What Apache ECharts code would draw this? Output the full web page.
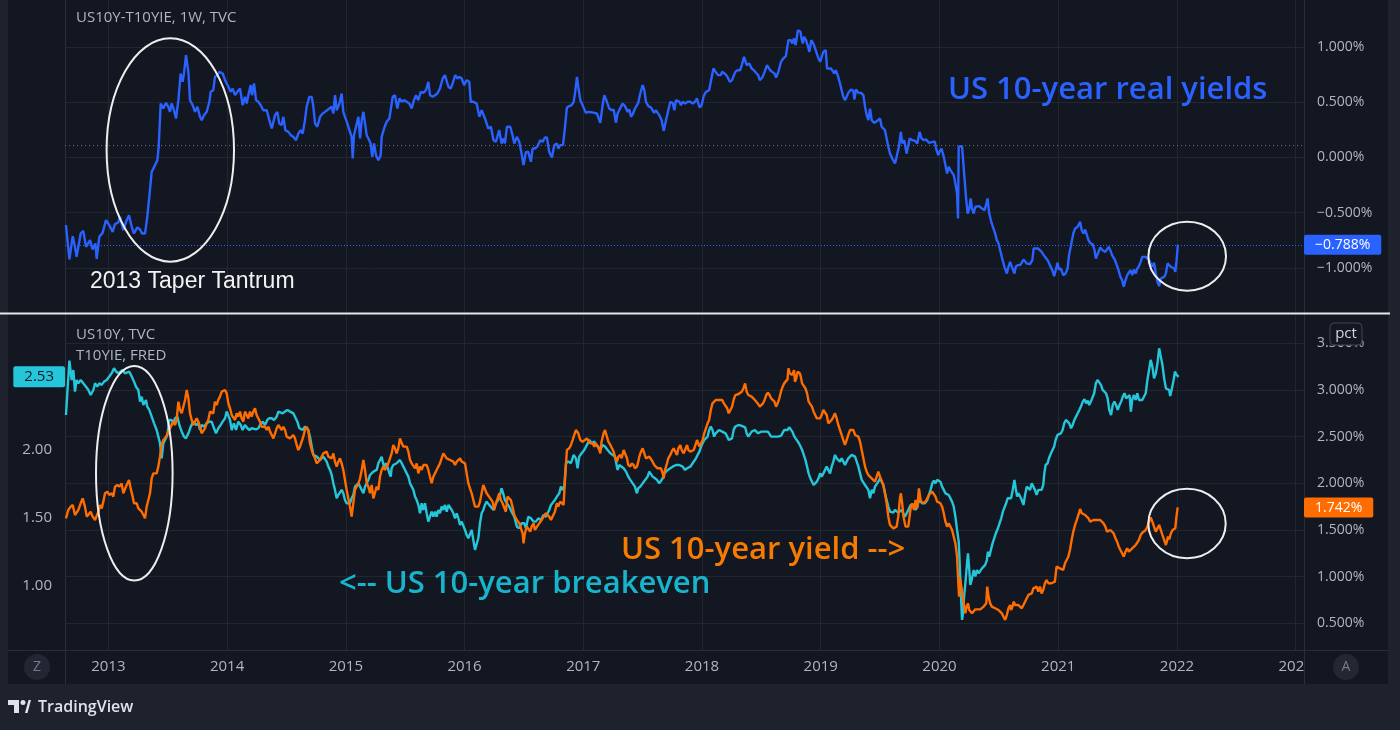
<!DOCTYPE html>
<html><head><meta charset="utf-8">
<script src="https://cdn.jsdelivr.net/npm/echarts@6/dist/echarts.min.js"></script>
<style>html,body{margin:0;padding:0;background:#1e222d;overflow:hidden}#chart{width:1400px;height:730px}</style>
</head><body><div id="chart"></div>
<script>
// ---------- tick labels ----------
const yearTicks = [2013,2014,2015,2016,2017,2018,2019,2020,2021,2022,2023];
const realTicks = [-1,-0.5,0,0.5,1];
const yieldTicks = [0.5,1,1.5,2,2.5,3,3.5];
const breakevenTicks = [1,1.5,2];
const realRefLevel = 0.113;

// ---------- US10Y-T10YIE (real yield, %) : [decimal year, value] ----------
const realYield = [
[2012.643,-0.612],[2012.672,-0.923],[2012.700,-0.712],[2012.719,-0.808],[2012.733,-0.899],[2012.767,-0.688],[2012.789,-0.664],[2012.812,-0.808],[2012.846,-0.748],[2012.868,-0.833],[2012.891,-0.778],[2012.902,-0.917],[2012.924,-0.718],[2012.952,-0.682],[2012.980,-0.567],
[2013.008,-0.612],[2013.036,-0.673],[2013.056,-0.603],[2013.084,-0.588],[2013.098,-0.537],[2013.126,-0.658],[2013.149,-0.582],[2013.174,-0.522],[2013.197,-0.627],[2013.216,-0.688],[2013.244,-0.633],[2013.267,-0.652],[2013.284,-0.688],[2013.309,-0.688],[2013.328,-0.537],
[2013.345,-0.356],[2013.365,-0.130],[2013.393,-0.069],[2013.413,-0.024],[2013.424,0.097],[2013.441,0.489],[2013.463,0.443],[2013.486,0.495],[2013.505,0.459],[2013.519,0.413],[2013.533,0.489],[2013.553,0.428],[2013.570,0.353],[2013.590,0.519],[2013.609,0.760],
[2013.626,0.685],[2013.637,0.760],[2013.654,0.926],[2013.674,0.775],[2013.688,0.519],[2013.710,0.474],[2013.730,0.413],[2013.750,0.459],[2013.772,0.368],[2013.786,0.338],[2013.806,0.383],[2013.828,0.413],[2013.851,0.504],[2013.862,0.594],[2013.884,0.609],
[2013.898,0.730],[2013.918,0.745],[2013.935,0.775],[2013.963,0.760],[2013.983,0.700],[2014.011,0.640],[2014.030,0.594],[2014.047,0.624],[2014.067,0.564],[2014.086,0.594],[2014.109,0.624],[2014.131,0.474],[2014.151,0.549],[2014.165,0.489],[2014.182,0.579],
[2014.199,0.655],[2014.210,0.564],[2014.227,0.670],[2014.244,0.519],[2014.263,0.504],[2014.283,0.474],[2014.305,0.428],[2014.334,0.428],[2014.356,0.338],[2014.376,0.262],[2014.404,0.383],[2014.423,0.413],[2014.440,0.308],[2014.460,0.293],[2014.474,0.368],
[2014.491,0.247],[2014.516,0.232],[2014.536,0.202],[2014.558,0.187],[2014.581,0.157],[2014.600,0.217],[2014.620,0.247],[2014.637,0.217],[2014.656,0.338],[2014.670,0.459],[2014.693,0.549],[2014.713,0.549],[2014.727,0.459],[2014.741,0.308],[2014.760,0.278],
[2014.783,0.368],[2014.805,0.398],[2014.825,0.413],[2014.839,0.428],[2014.861,0.443],[2014.881,0.459],[2014.895,0.398],[2014.909,0.564],[2014.923,0.428],[2014.946,0.489],[2014.965,0.579],[2014.979,0.413],[2014.993,0.368],[2015.013,0.308],[2015.030,0.247],
[2015.049,0.187],[2015.058,-0.009],[2015.069,0.202],[2015.086,0.278],[2015.106,0.368],[2015.120,0.172],[2015.134,0.338],[2015.148,0.413],[2015.162,0.428],[2015.176,0.202],[2015.190,0.172],[2015.209,0.127],[2015.223,0.006],[2015.238,0.127],[2015.254,0.021],
[2015.274,-0.024],[2015.294,0.021],[2015.302,0.187],[2015.322,0.262],[2015.344,0.323],[2015.367,0.353],[2015.378,0.338],[2015.395,0.549],[2015.414,0.564],[2015.434,0.443],[2015.451,0.534],[2015.471,0.504],[2015.490,0.519],[2015.513,0.504],[2015.535,0.489],
[2015.555,0.443],[2015.574,0.519],[2015.591,0.564],[2015.611,0.519],[2015.631,0.594],[2015.653,0.585],[2015.675,0.609],[2015.695,0.685],[2015.709,0.564],[2015.732,0.549],[2015.751,0.564],[2015.771,0.579],[2015.793,0.624],[2015.816,0.715],[2015.835,0.745],
[2015.850,0.745],[2015.864,0.640],[2015.883,0.624],[2015.900,0.670],[2015.922,0.745],[2015.939,0.715],[2015.956,0.730],[2015.976,0.715],[2015.996,0.655],[2016.018,0.700],[2016.040,0.685],[2016.052,0.504],[2016.074,0.504],[2016.102,0.489],[2016.125,0.368],
[2016.144,0.428],[2016.172,0.353],[2016.200,0.262],
[2016.222,0.278],[2016.244,0.157],[2016.264,0.142],[2016.284,0.217],[2016.292,0.247],[2016.312,0.127],[2016.329,0.172],[2016.340,0.127],[2016.357,0.278],[2016.385,0.278],[2016.404,0.202],[2016.419,0.127],[2016.441,0.187],[2016.461,0.142],[2016.480,0.036],
[2016.497,-0.069],[2016.517,0.051],[2016.537,0.051],[2016.559,-0.039],[2016.573,0.081],[2016.593,0.081],[2016.615,0.103],[2016.638,0.157],[2016.657,0.142],[2016.677,0.181],[2016.694,0.181],[2016.713,0.051],[2016.736,0.000],[2016.756,0.112],[2016.778,0.127],
[2016.789,0.081],[2016.806,0.112],[2016.829,0.112],[2016.846,0.278],[2016.862,0.452],[2016.882,0.465],[2016.902,0.474],[2016.919,0.504],[2016.930,0.579],[2016.947,0.730],[2016.958,0.640],[2016.975,0.519],[2016.994,0.474],[2017.022,0.404],[2017.042,0.413],
[2017.065,0.410],[2017.093,0.404],[2017.115,0.398],[2017.126,0.383],[2017.143,0.314],[2017.163,0.474],[2017.177,0.564],[2017.199,0.504],[2017.219,0.443],[2017.239,0.428],[2017.256,0.434],[2017.275,0.314],[2017.289,0.398],[2017.303,0.392],[2017.317,0.459],
[2017.331,0.489],[2017.351,0.465],[2017.374,0.413],[2017.388,0.434],[2017.402,0.368],[2017.419,0.398],[2017.435,0.443],[2017.452,0.474],[2017.463,0.495],[2017.480,0.579],[2017.500,0.655],[2017.514,0.609],[2017.528,0.504],[2017.548,0.465],[2017.570,0.452],
[2017.584,0.443],[2017.598,0.404],[2017.612,0.428],[2017.626,0.404],[2017.640,0.383],[2017.660,0.338],[2017.677,0.241],[2017.697,0.338],[2017.716,0.428],[2017.733,0.504],[2017.753,0.495],[2017.767,0.428],[2017.781,0.519],[2017.795,0.525],[2017.809,0.504],
[2017.823,0.474],[2017.837,0.504],[2017.857,0.489],[2017.879,0.504],[2017.902,0.504],[2017.921,0.489],[2017.941,0.504],[2017.958,0.534],[2017.969,0.489],[2017.980,0.452],[2017.997,0.474],[2018.014,0.555],[2018.033,0.594],[2018.047,0.585],[2018.060,0.609],
[2018.074,0.685],[2018.096,0.805],[2018.115,0.775],[2018.135,0.745],[2018.157,0.745],[2018.170,0.775],[2018.198,0.754],[2018.217,0.724],[2018.234,0.685],[2018.253,0.700],[2018.266,0.694],[2018.280,0.775],[2018.299,0.790],[2018.321,0.790],[2018.335,0.836],
[2018.354,0.911],[2018.376,0.836],[2018.398,0.851],[2018.418,0.805],[2018.437,0.790],[2018.453,0.775],[2018.473,0.745],[2018.486,0.700],[2018.508,0.724],[2018.527,0.775],[2018.547,0.836],[2018.563,0.836],[2018.574,0.790],[2018.591,0.775],[2018.610,0.760],
[2018.624,0.724],[2018.643,0.775],[2018.665,0.866],[2018.684,0.896],[2018.706,0.917],[2018.720,0.926],[2018.728,1.062],[2018.747,1.062],[2018.761,1.032],[2018.775,1.077],[2018.788,1.017],[2018.808,1.152],[2018.830,1.137],[2018.838,1.077],[2018.849,1.032],
[2018.860,1.092],[2018.876,1.062],[2018.893,1.002],[2018.904,0.956],[2018.920,1.062],[2018.940,1.026],[2018.953,0.986],[2018.967,0.941],[2018.981,0.896],[2018.995,0.866],[2019.008,0.911],[2019.022,0.956],[2019.042,0.971],[2019.053,0.805],[2019.070,0.805],
[2019.087,0.805],[2019.101,0.790],[2019.115,0.760],[2019.126,0.790],[2019.143,0.745],[2019.162,0.670],[2019.176,0.609],[2019.190,0.549],[2019.204,0.519],[2019.218,0.549],[2019.232,0.585],[2019.255,0.615],[2019.275,0.603],[2019.283,0.525],[2019.297,0.615],
[2019.317,0.585],[2019.339,0.585],[2019.359,0.564],[2019.373,0.459],[2019.387,0.383],[2019.401,0.338],[2019.415,0.443],[2019.429,0.338],[2019.448,0.314],[2019.465,0.323],[2019.479,0.338],[2019.499,0.353],[2019.513,0.278],[2019.527,0.293],[2019.541,0.247],
[2019.555,0.172],[2019.569,0.097],[2019.583,0.036],[2019.602,-0.009],[2019.625,-0.054],[2019.639,0.006],[2019.658,0.097],[2019.675,0.232],[2019.686,0.127],[2019.703,0.157],[2019.723,0.036],
[2019.749,0.172],[2019.771,0.157],[2019.793,0.151],[2019.813,0.127],[2019.832,0.232],[2019.849,0.172],[2019.869,0.157],[2019.888,0.163],[2019.911,0.133],[2019.925,0.151],[2019.944,0.142],[2019.961,0.142],[2019.972,0.081],[2019.989,0.021],[2020.000,0.051],
[2020.017,0.081],[2020.036,0.006],[2020.050,-0.069],[2020.064,-0.145],[2020.078,-0.084],[2020.092,-0.115],[2020.106,-0.100],[2020.120,-0.160],[2020.134,-0.235],[2020.148,-0.326],[2020.156,-0.552],[2020.162,0.097],[2020.176,0.097],[2020.190,0.103],[2020.201,-0.054],
[2020.212,-0.205],[2020.223,-0.356],[2020.237,-0.507],[2020.251,-0.462],[2020.263,-0.371],[2020.274,-0.462],[2020.288,-0.507],[2020.302,-0.446],[2020.318,-0.431],[2020.335,-0.440],[2020.358,-0.462],[2020.380,-0.477],[2020.391,-0.431],[2020.405,-0.371],[2020.419,-0.507],
[2020.436,-0.582],[2020.455,-0.643],[2020.469,-0.688],[2020.483,-0.748],[2020.497,-0.778],[2020.511,-0.839],[2020.525,-0.899],[2020.547,-0.989],[2020.567,-1.050],[2020.581,-0.989],[2020.595,-0.944],[2020.615,-1.005],[2020.631,-1.050],[2020.642,-0.989],[2020.659,-0.974],
[2020.679,-0.974],[2020.693,-0.953],[2020.707,-0.923],[2020.721,-0.935],[2020.735,-0.959],[2020.763,-0.965],[2020.782,-0.929],[2020.793,-0.824],[2020.810,-0.824],[2020.832,-0.824],[2020.846,-0.824],[2020.860,-0.854],[2020.874,-0.869],[2020.888,-0.899],[2020.911,-0.929],
[2020.930,-0.974],[2020.950,-1.020],[2020.966,-1.074],[2020.986,-0.989],[2020.994,-0.953],[2021.006,-1.014],[2021.023,-1.005],[2021.042,-1.065],[2021.062,-1.050],[2021.079,-1.005],[2021.091,-0.884],[2021.108,-0.793],[2021.127,-0.688],[2021.142,-0.643],[2021.164,-0.627],
[2021.184,-0.582],[2021.198,-0.658],[2021.212,-0.688],[2021.227,-0.652],[2021.241,-0.658],[2021.255,-0.748],[2021.272,-0.778],[2021.289,-0.784],[2021.306,-0.839],[2021.317,-0.914],[2021.334,-0.869],[2021.354,-0.814],[2021.374,-0.839],[2021.397,-0.854],[2021.411,-0.839],
[2021.425,-0.808],[2021.439,-0.839],[2021.453,-0.884],[2021.476,-0.923],[2021.487,-0.914],[2021.504,-1.005],[2021.524,-1.080],[2021.538,-1.110],[2021.552,-1.170],[2021.567,-1.110],[2021.581,-1.065],[2021.595,-1.080],[2021.609,-1.020],[2021.623,-1.065],[2021.637,-1.014],
[2021.652,-1.050],[2021.666,-1.005],[2021.680,-0.983],[2021.694,-0.944],[2021.708,-0.899],[2021.722,-0.884],[2021.737,-0.899],[2021.751,-0.899],[2021.765,-0.929],[2021.779,-0.959],[2021.793,-0.989],[2021.807,-0.953],[2021.822,-1.050],[2021.836,-1.125],[2021.850,-1.164],
[2021.864,-1.095],[2021.878,-1.080],[2021.892,-1.080],[2021.907,-1.050],[2021.921,-0.959],[2021.935,-0.965],[2021.949,-0.989],[2021.963,-0.974],[2021.977,-1.005],[2021.986,-1.035],[2021.997,-0.929],[2022.008,-0.788]
];

// ---------- T10YIE, FRED (10-year breakeven, left scale) ----------
const breakeven = [
[2012.643,2.251],[2012.672,2.649],[2012.691,2.507],[2012.705,2.580],[2012.719,2.422],[2012.733,2.507],[2012.747,2.483],[2012.767,2.507],[2012.789,2.483],[2012.812,2.458],[2012.832,2.434],[2012.851,2.397],[2012.874,2.434],[2012.888,2.483],[2012.907,2.458],
[2012.924,2.483],[2012.944,2.471],[2012.964,2.495],[2012.986,2.507],[2013.008,2.532],[2013.028,2.556],[2013.048,2.593],[2013.065,2.569],[2013.084,2.556],[2013.098,2.556],[2013.121,2.580],[2013.140,2.556],[2013.154,2.568],[2013.177,2.568],[2013.197,2.532],
[2013.216,2.495],[2013.233,2.458],[2013.253,2.434],[2013.267,2.349],[2013.281,2.385],[2013.295,2.324],[2013.317,2.361],[2013.328,2.312],[2013.345,2.288],[2013.365,2.239],[2013.385,2.190],[2013.407,2.141],[2013.421,2.093],[2013.435,2.044],[2013.449,1.934],
[2013.463,2.044],[2013.477,2.068],[2013.497,2.105],[2013.514,2.215],[2013.533,2.215],[2013.547,2.190],[2013.561,2.227],[2013.581,2.239],[2013.598,2.178],[2013.618,2.129],[2013.637,2.093],[2013.654,2.080],[2013.674,2.117],[2013.694,2.166],[2013.716,2.202],
[2013.739,2.178],[2013.758,2.190],[2013.772,2.141],[2013.786,2.178],[2013.806,2.166],[2013.828,2.190],[2013.851,2.202],[2013.870,2.202],[2013.890,2.154],[2013.907,2.117],[2013.926,2.154],[2013.946,2.178],[2013.963,2.202],[2013.983,2.227],[2013.997,2.276],
[2014.011,2.288],[2014.025,2.215],[2014.039,2.141],[2014.058,2.190],[2014.075,2.141],[2014.095,2.202],[2014.115,2.178],[2014.131,2.141],[2014.151,2.178],[2014.171,2.154],[2014.188,2.141],[2014.207,2.154],[2014.221,2.166],[2014.244,2.146],[2014.263,2.154],
[2014.277,2.178],[2014.300,2.202],[2014.320,2.178],[2014.339,2.215],[2014.356,2.227],[2014.376,2.227],[2014.395,2.215],[2014.418,2.239],[2014.432,2.276],[2014.446,2.288],[2014.468,2.263],[2014.488,2.276],[2014.508,2.288],[2014.530,2.276],[2014.544,2.288],
[2014.558,2.263],[2014.572,2.251],[2014.592,2.202],[2014.609,2.154],[2014.620,2.141],[2014.637,2.141],[2014.656,2.166],[2014.670,2.154],[2014.684,2.141],[2014.698,2.093],[2014.713,2.020],[2014.727,1.959],[2014.741,1.946],[2014.755,1.946],[2014.769,1.934],
[2014.783,1.922],[2014.797,1.934],[2014.811,1.946],[2014.825,1.946],[2014.839,1.910],[2014.853,1.873],[2014.867,1.849],[2014.881,1.812],[2014.895,1.751],[2014.909,1.703],[2014.923,1.642],[2014.937,1.666],[2014.951,1.678],[2014.965,1.703],[2014.979,1.678],
[2014.993,1.629],[2015.007,1.605],[2015.021,1.593],[2015.035,1.605],[2015.049,1.642],[2015.063,1.666],[2015.077,1.727],[2015.091,1.715],[2015.106,1.751],[2015.120,1.727],[2015.134,1.739],[2015.148,1.678],[2015.162,1.727],[2015.176,1.751],[2015.190,1.776],
[2015.204,1.812],[2015.218,1.824],[2015.232,1.837],[2015.246,1.824],[2015.260,1.849],[2015.274,1.898],[2015.288,1.910],[2015.302,1.946],[2015.311,1.910],[2015.322,1.873],[2015.339,1.898],[2015.350,1.873],[2015.367,1.824],[2015.378,1.800],[2015.386,1.861],
[2015.400,1.885],[2015.414,1.873],[2015.428,1.898],[2015.442,1.910],[2015.456,1.922],[2015.471,1.898],[2015.485,1.873],[2015.499,1.849],[2015.513,1.824],[2015.527,1.800],[2015.541,1.751],[2015.555,1.727],[2015.569,1.703],[2015.583,1.654],[2015.597,1.629],
[2015.611,1.593],[2015.625,1.532],[2015.639,1.605],[2015.653,1.556],[2015.667,1.605],[2015.681,1.532],[2015.695,1.471],[2015.709,1.507],[2015.723,1.544],[2015.737,1.507],[2015.751,1.544],[2015.765,1.507],[2015.779,1.556],[2015.793,1.532],[2015.807,1.581],
[2015.821,1.556],[2015.835,1.593],[2015.850,1.544],[2015.864,1.593],[2015.878,1.605],[2015.892,1.556],[2015.906,1.532],[2015.920,1.495],[2015.934,1.532],[2015.948,1.495],[2015.962,1.446],[2015.976,1.471],[2015.990,1.459],[2016.004,1.410],[2016.018,1.373],
[2016.032,1.349],[2016.046,1.361],[2016.060,1.410],[2016.074,1.337],[2016.088,1.264],[2016.102,1.264],[2016.116,1.349],[2016.130,1.459],[2016.144,1.532],[2016.158,1.556],[2016.172,1.593],[2016.186,1.617],[2016.200,1.605],
[2016.244,1.556],[2016.264,1.605],[2016.292,1.642],[2016.312,1.715],[2016.329,1.666],[2016.340,1.629],[2016.357,1.605],[2016.376,1.581],[2016.396,1.544],[2016.419,1.507],[2016.441,1.434],[2016.461,1.422],[2016.480,1.459],[2016.503,1.459],[2016.517,1.422],
[2016.537,1.507],[2016.559,1.495],[2016.581,1.471],[2016.601,1.471],[2016.621,1.495],[2016.643,1.483],[2016.666,1.520],[2016.685,1.507],[2016.699,1.532],[2016.713,1.556],[2016.728,1.593],[2016.742,1.581],[2016.761,1.629],[2016.778,1.654],[2016.798,1.678],
[2016.812,1.727],[2016.826,1.703],[2016.840,1.727],[2016.854,1.898],[2016.874,1.910],[2016.896,1.898],[2016.919,1.959],[2016.938,1.934],[2016.952,1.861],[2016.966,1.946],[2016.986,1.971],[2017.008,1.995],[2017.031,2.032],[2017.051,2.068],[2017.070,2.044],
[2017.093,2.056],[2017.107,2.032],[2017.126,2.020],[2017.143,1.995],[2017.163,2.032],[2017.183,2.020],[2017.205,1.995],[2017.228,1.971],[2017.247,1.959],[2017.267,1.946],[2017.289,1.849],[2017.303,1.885],[2017.317,1.898],[2017.340,1.861],[2017.360,1.837],
[2017.379,1.800],[2017.396,1.776],[2017.416,1.751],[2017.435,1.727],[2017.452,1.678],[2017.463,1.715],[2017.480,1.727],[2017.500,1.751],[2017.514,1.763],[2017.542,1.800],[2017.556,1.837],[2017.584,1.800],[2017.604,1.788],[2017.621,1.776],[2017.640,1.751],
[2017.669,1.788],[2017.683,1.824],[2017.697,1.837],[2017.711,1.849],[2017.733,1.861],[2017.753,1.873],[2017.781,1.885],[2017.795,1.873],[2017.809,1.885],[2017.837,1.873],[2017.857,1.849],[2017.874,1.861],[2017.885,1.849],[2017.902,1.873],[2017.921,1.898],
[2017.935,1.898],[2017.949,1.934],[2017.963,1.959],[2017.978,1.983],[2017.992,2.020],[2018.005,2.044],[2018.019,2.068],[2018.033,2.080],[2018.047,2.093],[2018.060,2.141],[2018.074,2.166],[2018.088,2.141],[2018.102,2.093],[2018.115,2.117],[2018.129,2.129],
[2018.143,2.141],[2018.157,2.137],[2018.170,2.129],[2018.184,2.141],[2018.198,2.117],[2018.212,2.093],[2018.225,2.068],[2018.239,2.056],[2018.253,2.080],[2018.266,2.141],[2018.280,2.166],[2018.294,2.178],[2018.308,2.178],[2018.321,2.166],[2018.335,2.171],
[2018.349,2.166],[2018.363,2.161],[2018.376,2.117],[2018.390,2.093],[2018.404,2.098],[2018.418,2.129],[2018.431,2.137],[2018.445,2.141],[2018.459,2.129],[2018.473,2.117],[2018.486,2.117],[2018.500,2.129],[2018.514,2.122],[2018.527,2.129],[2018.541,2.117],
[2018.555,2.129],[2018.569,2.117],[2018.582,2.093],[2018.596,2.088],[2018.610,2.093],[2018.624,2.098],[2018.637,2.093],[2018.651,2.088],[2018.665,2.098],[2018.679,2.105],[2018.692,2.141],[2018.706,2.154],[2018.720,2.141],[2018.734,2.161],[2018.747,2.146],
[2018.761,2.129],[2018.775,2.098],[2018.788,2.080],[2018.802,2.068],[2018.816,2.044],[2018.830,2.020],[2018.843,1.995],[2018.857,1.959],[2018.871,1.922],[2018.885,1.873],[2018.898,1.824],[2018.912,1.788],[2018.926,1.776],[2018.940,1.739],[2018.953,1.739],
[2018.967,1.763],[2018.981,1.788],[2018.995,1.824],[2019.008,1.800],[2019.022,1.824],[2019.036,1.824],[2019.050,1.873],[2019.064,1.849],[2019.078,1.824],[2019.092,1.873],[2019.106,1.910],[2019.120,1.959],[2019.134,1.934],[2019.148,1.946],[2019.162,1.910],
[2019.176,1.934],[2019.190,1.910],[2019.204,1.885],[2019.218,1.910],[2019.232,1.934],[2019.246,1.946],[2019.261,1.959],[2019.275,1.971],[2019.289,1.946],[2019.303,1.910],[2019.317,1.873],[2019.331,1.824],[2019.345,1.776],[2019.359,1.763],[2019.373,1.739],
[2019.387,1.727],[2019.401,1.703],[2019.415,1.642],[2019.429,1.703],[2019.443,1.678],[2019.457,1.727],[2019.471,1.727],[2019.485,1.763],[2019.499,1.788],[2019.513,1.800],[2019.527,1.739],[2019.541,1.678],[2019.555,1.629],[2019.569,1.581],[2019.583,1.544],
[2019.597,1.544],[2019.611,1.537],[2019.625,1.556],[2019.639,1.544],[2019.653,1.537],[2019.681,1.556],[2019.709,1.507],[2019.737,1.556],
[2019.757,1.593],[2019.771,1.605],[2019.785,1.593],[2019.799,1.556],[2019.813,1.581],[2019.827,1.629],[2019.841,1.642],[2019.855,1.605],[2019.877,1.605],[2019.897,1.629],[2019.911,1.666],[2019.925,1.703],[2019.939,1.751],[2019.953,1.771],[2019.966,1.751],
[2019.980,1.776],[2019.994,1.776],[2020.008,1.763],[2020.022,1.727],[2020.036,1.703],[2020.050,1.678],[2020.064,1.666],[2020.078,1.666],[2020.092,1.666],[2020.106,1.617],[2020.120,1.581],[2020.134,1.507],[2020.148,1.410],[2020.162,1.324],[2020.170,1.166],
[2020.179,0.971],[2020.190,0.752],[2020.198,0.800],[2020.207,0.922],[2020.218,1.020],[2020.232,1.166],[2020.240,1.239],[2020.251,1.117],[2020.260,1.008],[2020.274,1.056],[2020.288,1.117],[2020.302,1.069],[2020.316,1.117],[2020.330,1.093],[2020.344,1.105],
[2020.358,1.129],[2020.372,1.117],[2020.385,1.154],[2020.399,1.190],[2020.408,1.251],[2020.419,1.215],[2020.433,1.264],[2020.447,1.312],[2020.461,1.312],[2020.475,1.386],[2020.492,1.422],[2020.506,1.459],[2020.520,1.495],[2020.534,1.544],[2020.547,1.544],
[2020.561,1.605],[2020.575,1.642],[2020.589,1.654],[2020.603,1.642],[2020.617,1.703],[2020.631,1.776],[2020.642,1.715],[2020.654,1.654],[2020.665,1.678],[2020.679,1.654],[2020.693,1.629],[2020.707,1.593],[2020.721,1.666],[2020.735,1.727],[2020.749,1.727],
[2020.763,1.703],[2020.777,1.751],[2020.791,1.746],[2020.804,1.703],[2020.818,1.666],[2020.832,1.703],[2020.846,1.715],[2020.860,1.703],[2020.874,1.739],[2020.883,1.824],[2020.894,1.885],[2020.911,1.898],[2020.922,1.934],[2020.939,1.971],[2020.953,1.983],
[2020.966,2.020],[2020.978,2.068],[2020.994,2.105],[2021.008,2.105],[2021.023,2.117],[2021.037,2.141],[2021.051,2.190],[2021.065,2.215],[2021.079,2.215],[2021.093,2.190],[2021.108,2.154],[2021.122,2.178],[2021.136,2.215],[2021.150,2.239],[2021.164,2.263],
[2021.178,2.288],[2021.193,2.317],[2021.207,2.349],[2021.221,2.366],[2021.235,2.337],[2021.249,2.356],[2021.261,2.324],[2021.275,2.349],[2021.289,2.361],[2021.303,2.410],[2021.317,2.483],[2021.331,2.507],[2021.346,2.519],[2021.360,2.471],[2021.374,2.434],
[2021.388,2.422],[2021.402,2.410],[2021.416,2.373],[2021.430,2.288],[2021.445,2.251],[2021.459,2.324],[2021.473,2.349],[2021.487,2.324],[2021.501,2.288],[2021.516,2.324],[2021.530,2.349],[2021.544,2.385],[2021.558,2.410],[2021.572,2.373],[2021.586,2.385],
[2021.601,2.397],[2021.612,2.276],[2021.623,2.361],[2021.637,2.397],[2021.652,2.361],[2021.666,2.410],[2021.680,2.361],[2021.694,2.349],[2021.708,2.361],[2021.722,2.373],[2021.737,2.410],[2021.751,2.507],[2021.765,2.580],[2021.779,2.654],[2021.793,2.605],
[2021.807,2.519],[2021.822,2.556],[2021.836,2.629],[2021.850,2.739],[2021.864,2.678],[2021.878,2.617],[2021.892,2.519],[2021.907,2.446],[2021.921,2.434],[2021.935,2.434],[2021.943,2.390],[2021.958,2.446],[2021.972,2.507],[2021.983,2.568],[2021.997,2.544],
[2022.014,2.53]
];

// ---------- US10Y, TVC (10-year yield, %, right scale) ----------
const us10y = [
[2012.643,1.625],[2012.663,1.714],[2012.683,1.750],[2012.700,1.768],[2012.719,1.661],[2012.733,1.643],[2012.747,1.714],[2012.767,1.786],[2012.784,1.839],[2012.803,1.750],[2012.818,1.643],[2012.832,1.625],[2012.851,1.696],[2012.868,1.643],[2012.888,1.607],
[2012.902,1.589],[2012.916,1.696],[2012.930,1.768],[2012.944,1.732],[2012.958,1.804],[2012.972,1.893],[2012.992,1.911],[2013.008,1.875],[2013.028,1.893],[2013.042,1.857],[2013.056,1.964],[2013.076,1.982],[2013.093,1.964],[2013.112,2.000],[2013.126,1.893],
[2013.140,1.911],[2013.154,1.982],[2013.174,2.036],[2013.188,1.946],[2013.205,1.857],[2013.216,1.786],[2013.239,1.786],[2013.253,1.732],[2013.267,1.714],[2013.281,1.696],[2013.295,1.661],[2013.309,1.625],[2013.323,1.750],[2013.337,1.821],[2013.351,1.893],
[2013.365,2.054],[2013.379,2.107],[2013.393,2.125],[2013.407,2.107],[2013.421,2.179],[2013.435,2.286],[2013.449,2.411],[2013.463,2.464],[2013.486,2.500],[2013.505,2.554],[2013.519,2.589],[2013.533,2.607],[2013.547,2.661],[2013.561,2.625],[2013.575,2.679],
[2013.590,2.875],[2013.604,2.786],[2013.618,2.750],[2013.632,2.768],[2013.646,2.893],[2013.660,3.000],[2013.674,2.911],[2013.688,2.750],[2013.702,2.679],[2013.716,2.625],[2013.730,2.661],[2013.744,2.696],[2013.758,2.661],[2013.772,2.607],[2013.786,2.536],
[2013.800,2.554],[2013.814,2.589],[2013.828,2.643],[2013.842,2.679],[2013.856,2.768],[2013.870,2.786],[2013.884,2.750],[2013.898,2.875],[2013.912,2.839],[2013.926,2.893],[2013.940,2.929],[2013.955,2.982],[2013.969,3.000],[2013.983,3.000],[2013.997,2.964],
[2014.011,2.857],[2014.025,2.804],[2014.039,2.732],[2014.053,2.714],[2014.067,2.679],[2014.081,2.750],[2014.095,2.714],[2014.109,2.768],[2014.123,2.696],[2014.137,2.661],[2014.151,2.768],[2014.165,2.732],[2014.179,2.696],[2014.193,2.768],[2014.207,2.714],
[2014.221,2.768],[2014.235,2.804],[2014.249,2.732],[2014.263,2.696],[2014.277,2.661],[2014.291,2.607],[2014.305,2.625],[2014.320,2.607],[2014.334,2.571],[2014.348,2.607],[2014.362,2.554],[2014.376,2.518],[2014.390,2.482],[2014.404,2.536],[2014.418,2.589],
[2014.432,2.625],[2014.446,2.607],[2014.460,2.571],[2014.474,2.607],[2014.488,2.571],[2014.502,2.500],[2014.516,2.482],[2014.530,2.482],[2014.544,2.464],[2014.558,2.518],[2014.572,2.482],[2014.586,2.411],[2014.600,2.357],[2014.614,2.393],[2014.628,2.411],
[2014.642,2.500],[2014.656,2.571],[2014.670,2.607],[2014.684,2.571],[2014.698,2.429],[2014.713,2.357],[2014.727,2.304],[2014.741,2.268],[2014.755,2.214],[2014.769,2.196],[2014.783,2.250],[2014.797,2.286],[2014.811,2.321],[2014.825,2.304],[2014.839,2.339],
[2014.853,2.286],[2014.867,2.304],[2014.881,2.268],[2014.895,2.321],[2014.909,2.232],[2014.923,2.179],[2014.937,2.232],[2014.951,2.268],[2014.965,2.214],[2014.979,2.143],[2014.993,2.036],[2015.007,1.929],[2015.021,1.839],[2015.035,1.750],[2015.049,1.643],
[2015.063,1.786],[2015.077,1.929],[2015.091,1.964],[2015.106,2.000],[2015.120,2.054],[2015.134,2.143],[2015.148,2.250],[2015.162,2.143],[2015.176,2.000],[2015.190,1.964],[2015.204,1.893],[2015.218,1.982],[2015.232,1.839],[2015.246,1.857],[2015.260,1.964],
[2015.274,1.929],[2015.288,2.071],[2015.302,2.143],[2015.316,2.179],[2015.330,2.143],[2015.344,2.143],[2015.358,2.214],[2015.372,2.214],[2015.386,2.321],[2015.400,2.411],[2015.414,2.375],[2015.428,2.321],[2015.442,2.375],[2015.456,2.482],[2015.471,2.429],
[2015.485,2.393],[2015.499,2.411],[2015.513,2.393],[2015.527,2.339],[2015.541,2.250],[2015.555,2.214],[2015.569,2.196],[2015.583,2.161],[2015.597,2.214],[2015.611,2.107],[2015.625,2.179],[2015.639,2.143],[2015.653,2.196],[2015.667,2.179],[2015.681,2.196],
[2015.695,2.143],[2015.709,2.071],[2015.723,2.000],[2015.737,2.071],[2015.751,2.107],[2015.765,2.143],[2015.779,2.125],[2015.793,2.214],[2015.807,2.268],[2015.821,2.321],[2015.835,2.304],[2015.850,2.268],[2015.864,2.250],[2015.878,2.250],[2015.892,2.268],
[2015.906,2.232],[2015.920,2.196],[2015.934,2.232],[2015.948,2.250],[2015.962,2.268],[2015.976,2.232],[2015.990,2.250],[2016.004,2.214],[2016.018,2.107],[2016.032,2.000],[2016.046,1.946],[2016.060,1.893],[2016.074,1.821],[2016.088,1.750],[2016.102,1.750],
[2016.116,1.750],[2016.130,1.804],[2016.144,1.893],[2016.158,1.982],[2016.172,1.964],[2016.186,1.893],[2016.200,1.875],
[2016.236,1.804],[2016.250,1.714],[2016.264,1.786],[2016.278,1.839],[2016.292,1.893],[2016.306,1.821],[2016.320,1.786],[2016.334,1.768],[2016.348,1.696],[2016.362,1.857],[2016.376,1.857],[2016.390,1.821],[2016.404,1.750],[2016.419,1.661],[2016.441,1.607],
[2016.461,1.571],[2016.475,1.518],[2016.489,1.464],[2016.497,1.357],[2016.508,1.464],[2016.525,1.536],[2016.537,1.536],[2016.553,1.482],[2016.565,1.536],[2016.581,1.571],[2016.593,1.500],[2016.610,1.536],[2016.629,1.571],[2016.649,1.607],[2016.666,1.643],
[2016.685,1.679],[2016.713,1.643],[2016.728,1.607],[2016.742,1.589],[2016.761,1.696],[2016.778,1.786],[2016.789,1.750],[2016.806,1.804],[2016.817,1.821],[2016.834,1.768],[2016.846,2.036],[2016.862,2.357],[2016.882,2.375],[2016.896,2.411],[2016.910,2.464],
[2016.924,2.518],[2016.938,2.571],[2016.947,2.589],[2016.958,2.536],[2016.975,2.464],[2016.994,2.446],[2017.014,2.464],[2017.031,2.482],[2017.042,2.464],[2017.059,2.429],[2017.079,2.429],[2017.093,2.393],[2017.107,2.429],[2017.121,2.411],[2017.135,2.357],
[2017.143,2.321],[2017.154,2.446],[2017.171,2.536],[2017.183,2.571],[2017.199,2.500],[2017.211,2.446],[2017.228,2.411],[2017.239,2.393],[2017.256,2.339],[2017.267,2.286],[2017.284,2.232],[2017.295,2.286],[2017.312,2.304],[2017.323,2.268],[2017.340,2.357],
[2017.351,2.339],[2017.368,2.268],[2017.379,2.196],[2017.396,2.179],[2017.407,2.214],[2017.424,2.196],[2017.435,2.161],[2017.452,2.179],[2017.463,2.232],[2017.472,2.286],[2017.486,2.339],[2017.500,2.375],[2017.514,2.357],[2017.528,2.268],[2017.542,2.250],
[2017.556,2.286],[2017.570,2.268],[2017.584,2.232],[2017.598,2.196],[2017.612,2.179],[2017.626,2.161],[2017.640,2.143],[2017.654,2.161],[2017.669,2.107],[2017.677,2.054],[2017.688,2.143],[2017.705,2.214],[2017.716,2.268],[2017.733,2.304],[2017.744,2.339],
[2017.761,2.375],[2017.772,2.357],[2017.789,2.304],[2017.801,2.375],[2017.817,2.411],[2017.829,2.357],[2017.846,2.321],[2017.857,2.357],[2017.874,2.411],[2017.885,2.357],[2017.902,2.339],[2017.913,2.357],[2017.930,2.357],[2017.941,2.375],[2017.958,2.464],
[2017.969,2.446],[2017.978,2.393],[2017.992,2.411],[2018.005,2.464],[2018.019,2.536],[2018.033,2.554],[2018.047,2.643],[2018.060,2.679],[2018.074,2.786],[2018.088,2.857],[2018.102,2.875],[2018.115,2.893],[2018.129,2.875],[2018.143,2.893],[2018.157,2.886],
[2018.170,2.893],[2018.184,2.857],[2018.198,2.839],[2018.212,2.804],[2018.225,2.750],[2018.239,2.768],[2018.253,2.821],[2018.266,2.893],[2018.280,2.946],[2018.294,2.964],[2018.308,2.957],[2018.321,2.964],[2018.335,2.982],[2018.349,3.018],[2018.363,3.071],
[2018.376,2.982],[2018.390,2.946],[2018.404,2.964],[2018.418,2.929],[2018.431,2.911],[2018.445,2.893],[2018.459,2.875],[2018.473,2.850],[2018.486,2.821],[2018.500,2.829],[2018.514,2.857],[2018.527,2.893],[2018.541,2.946],[2018.555,2.971],[2018.569,2.946],
[2018.582,2.911],[2018.596,2.893],[2018.610,2.875],[2018.624,2.821],[2018.637,2.857],[2018.651,2.911],[2018.665,2.982],[2018.679,3.036],[2018.692,3.071],[2018.706,3.079],[2018.720,3.114],[2018.728,3.232],[2018.739,3.179],[2018.750,3.186],[2018.761,3.161],
[2018.775,3.214],[2018.783,3.089],[2018.794,3.125],[2018.805,3.196],[2018.816,3.214],[2018.824,3.179],[2018.832,3.143],[2018.843,3.071],[2018.857,3.054],[2018.871,3.018],[2018.885,2.964],[2018.898,2.875],[2018.912,2.875],[2018.926,2.821],[2018.940,2.768],
[2018.953,2.732],[2018.967,2.696],[2018.981,2.679],[2018.995,2.696],[2019.008,2.732],[2019.022,2.786],[2019.036,2.768],[2019.050,2.732],[2019.064,2.643],[2019.078,2.661],[2019.092,2.679],[2019.106,2.714],[2019.120,2.750],[2019.134,2.696],[2019.148,2.625],
[2019.162,2.607],[2019.176,2.518],[2019.190,2.464],[2019.204,2.411],[2019.218,2.464],[2019.232,2.518],[2019.246,2.571],[2019.261,2.554],[2019.275,2.571],[2019.289,2.518],[2019.303,2.518],[2019.317,2.500],[2019.331,2.446],[2019.345,2.357],[2019.359,2.268],
[2019.373,2.179],[2019.387,2.125],[2019.401,2.089],[2019.415,2.071],[2019.429,2.054],[2019.443,2.036],[2019.457,2.018],[2019.471,2.071],[2019.485,2.125],[2019.499,2.071],[2019.513,2.089],[2019.527,1.982],[2019.541,1.893],[2019.555,1.786],[2019.569,1.643],
[2019.583,1.554],[2019.597,1.536],[2019.611,1.518],[2019.625,1.500],[2019.639,1.536],[2019.653,1.643],[2019.667,1.839],[2019.675,1.893],[2019.686,1.786],[2019.697,1.643],[2019.714,1.536],[2019.737,1.536],
[2019.757,1.732],[2019.771,1.786],[2019.785,1.714],[2019.799,1.821],[2019.813,1.732],[2019.827,1.946],[2019.841,1.821],[2019.855,1.786],[2019.869,1.786],[2019.883,1.804],[2019.897,1.821],[2019.911,1.875],[2019.925,1.893],[2019.939,1.911],[2019.953,1.893],
[2019.966,1.857],[2019.980,1.804],[2019.994,1.821],[2020.008,1.786],[2020.022,1.750],[2020.036,1.679],[2020.050,1.589],[2020.064,1.536],[2020.078,1.571],[2020.092,1.589],[2020.106,1.500],[2020.120,1.429],[2020.134,1.357],[2020.148,1.214],[2020.156,1.000],
[2020.165,0.786],[2020.173,0.982],[2020.184,0.893],[2020.196,0.786],[2020.207,0.696],[2020.218,0.607],[2020.229,0.679],[2020.240,0.714],[2020.251,0.643],[2020.263,0.625],[2020.274,0.607],[2020.288,0.625],[2020.302,0.650],[2020.316,0.661],[2020.344,0.650],
[2020.358,0.661],[2020.372,0.679],[2020.385,0.661],[2020.394,0.714],[2020.402,0.893],[2020.413,0.786],[2020.427,0.714],[2020.441,0.679],[2020.455,0.679],[2020.469,0.661],[2020.497,0.643],[2020.511,0.625],[2020.525,0.607],[2020.539,0.571],[2020.553,0.536],
[2020.567,0.589],[2020.581,0.661],[2020.595,0.696],[2020.603,0.643],[2020.615,0.679],[2020.626,0.732],[2020.637,0.696],[2020.651,0.679],[2020.665,0.696],[2020.679,0.679],[2020.693,0.661],[2020.707,0.696],[2020.721,0.732],[2020.735,0.768],[2020.749,0.804],
[2020.763,0.786],[2020.777,0.821],[2020.791,0.875],[2020.804,0.857],[2020.818,0.893],[2020.832,0.839],[2020.846,0.893],[2020.860,0.821],[2020.874,0.857],[2020.888,0.929],[2020.902,0.964],[2020.916,0.929],[2020.930,0.946],[2020.944,0.929],[2020.958,0.911],
[2020.972,0.946],[2020.986,1.107],[2021.000,1.125],[2021.014,1.089],[2021.028,1.100],[2021.042,1.071],[2021.057,1.143],[2021.071,1.179],[2021.085,1.214],[2021.099,1.286],[2021.113,1.393],[2021.127,1.482],[2021.142,1.554],[2021.156,1.607],[2021.170,1.661],
[2021.184,1.725],[2021.198,1.679],[2021.212,1.679],[2021.227,1.661],[2021.241,1.661],[2021.255,1.625],[2021.269,1.589],[2021.283,1.571],[2021.297,1.607],[2021.312,1.625],[2021.326,1.607],[2021.340,1.625],[2021.354,1.607],[2021.368,1.589],[2021.382,1.571],
[2021.397,1.536],[2021.411,1.482],[2021.425,1.464],[2021.439,1.500],[2021.453,1.518],[2021.467,1.464],[2021.482,1.411],[2021.496,1.375],[2021.510,1.321],[2021.524,1.286],[2021.538,1.250],[2021.552,1.214],[2021.567,1.268],[2021.581,1.304],[2021.595,1.268],
[2021.609,1.268],[2021.623,1.304],[2021.637,1.321],[2021.652,1.339],[2021.666,1.357],[2021.680,1.393],[2021.694,1.446],[2021.708,1.471],[2021.722,1.464],[2021.737,1.500],[2021.751,1.536],[2021.765,1.589],[2021.779,1.636],[2021.793,1.589],[2021.807,1.536],
[2021.822,1.482],[2021.836,1.518],[2021.850,1.554],[2021.864,1.536],[2021.878,1.446],[2021.892,1.393],[2021.907,1.339],[2021.915,1.375],[2021.924,1.429],[2021.935,1.400],[2021.949,1.464],[2021.963,1.500],[2021.977,1.500],[2021.986,1.518],[2021.994,1.625],
[2022.006,1.742]
];

// ---------- chart ----------
const FONT = '"Open Sans", "Noto Sans", "DejaVu Sans", sans-serif';
const PANEL = '#131722';
const GRIDC = '#22262f';
const BORDER = '#2a2e39';
const AXIS_TXT = '#b2b5be';
const BLUE = '#2962ff', CYAN = '#26c6da', ORANGE = '#ff6d00';
const LW = 2.4;
const pct = v => (v < 0 ? '\u2212' : '') + Math.abs(v).toFixed(3) + '%';
const realLast = realYield[realYield.length - 1][1];
const beLast = breakeven[breakeven.length - 1][1];
const usLast = us10y[us10y.length - 1][1];

const chart = echarts.init(document.getElementById('chart'), null, {renderer: 'canvas'});

function txt(x, y, text, size, color, extra, z) {
  return {type: 'text', x: x, y: y, z: z || 30, silent: true,
    style: Object.assign({text: text, fill: color, fontSize: size, fontFamily: FONT,
      align: 'left', verticalAlign: 'middle', textAlign: 'left', textVerticalAlign: 'middle'}, extra || {})};
}
function ell(cx, cy, rx, ry) {
  return {type: 'ellipse', z: 30, silent: true, shape: {cx: cx, cy: cy, rx: rx, ry: ry},
    style: {fill: 'none', stroke: '#eeeeee', lineWidth: 2}};
}
function vline(x, y1, y2, color, z) {
  return {type: 'line', z: z, silent: true, shape: {x1: x, y1: y1, x2: x, y2: y2}, style: {stroke: color, lineWidth: 1}};
}

const badgeLabel = (text, bg, fg, pos, size) => ({
  show: true, position: pos, distance: 0, formatter: text, backgroundColor: bg, color: fg,
  padding: [3, 11, 3, 11], borderRadius: 2, fontSize: size, fontFamily: FONT
});

const option = {
  backgroundColor: '#1e222d',
  animation: false,
  textStyle: {fontFamily: FONT},
  grid: [
    {left: 65, right: 96, top: 0, height: 312},
    {left: 65, right: 96, top: 316, height: 334}
  ],
  xAxis: [
    {gridIndex: 0, type: 'value', min: 2012.635, max: 2023.07,
      axisLine: {show: false}, axisTick: {show: false, customValues: yearTicks},
      axisLabel: {show: false, customValues: yearTicks},
      splitLine: {show: true, lineStyle: {color: GRIDC, width: 1}}},
    {gridIndex: 1, type: 'value', min: 2012.635, max: 2023.07,
      axisLine: {show: true, lineStyle: {color: BORDER}}, axisTick: {show: false, customValues: yearTicks},
      axisLabel: {customValues: yearTicks, formatter: v => String(Math.round(v)), color: AXIS_TXT, fontSize: 15, margin: 9, fontFamily: FONT},
      splitLine: {show: true, lineStyle: {color: GRIDC, width: 1}}}
  ],
  yAxis: [
    {gridIndex: 0, type: 'value', position: 'right', min: -1.3982, max: 1.4253,
      axisLine: {show: false}, axisTick: {show: false, customValues: realTicks},
      axisLabel: {customValues: realTicks, formatter: pct, color: AXIS_TXT, fontSize: 14, margin: 13, fontFamily: FONT},
      splitLine: {show: true, lineStyle: {color: GRIDC, width: 1}}},
    {gridIndex: 1, type: 'value', position: 'right', min: 0.2142, max: 3.7929,
      axisLine: {show: false}, axisTick: {show: false, customValues: yieldTicks},
      axisLabel: {customValues: yieldTicks, formatter: pct, color: AXIS_TXT, fontSize: 14, margin: 13, fontFamily: FONT},
      splitLine: {show: true, lineStyle: {color: GRIDC, width: 1}}},
    {gridIndex: 1, type: 'value', position: 'left', min: 0.5318, max: 2.9751,
      axisLine: {show: false}, axisTick: {show: false, customValues: breakevenTicks},
      axisLabel: {customValues: breakevenTicks, formatter: v => v.toFixed(2), color: AXIS_TXT, fontSize: 15, margin: 13, fontFamily: FONT},
      splitLine: {show: false}}
  ],
  series: [
    {type: 'line', name: 'US10Y-T10YIE', xAxisIndex: 0, yAxisIndex: 0, data: realYield,
      showSymbol: false, symbol: 'none', z: 3,
      lineStyle: {color: BLUE, width: LW}, itemStyle: {color: BLUE},
      markLine: {silent: true, symbol: 'none', animation: false, data: [
        {yAxis: realRefLevel, lineStyle: {type: [1, 3], color: '#6a6d78', width: 1}, label: {show: false}},
        {yAxis: realLast, lineStyle: {type: [1, 2], color: BLUE, width: 1},
          label: badgeLabel(pct(realLast), BLUE, '#ffffff', 'end', 14)}
      ]}},
    {type: 'line', name: 'T10YIE', xAxisIndex: 1, yAxisIndex: 2, data: breakeven,
      showSymbol: false, symbol: 'none', z: 3,
      lineStyle: {color: CYAN, width: LW}, itemStyle: {color: CYAN},
      markLine: {silent: true, symbol: 'none', animation: false, data: [
        {yAxis: beLast, lineStyle: {color: 'rgba(0,0,0,0)', width: 0},
          label: badgeLabel(beLast.toFixed(2), CYAN, '#131722', 'start', 15)}
      ]}},
    {type: 'line', name: 'US10Y', xAxisIndex: 1, yAxisIndex: 1, data: us10y,
      showSymbol: false, symbol: 'none', z: 4,
      lineStyle: {color: ORANGE, width: LW}, itemStyle: {color: ORANGE},
      markLine: {silent: true, symbol: 'none', animation: false, data: [
        {yAxis: usLast, lineStyle: {color: 'rgba(0,0,0,0)', width: 0},
          label: badgeLabel(pct(usLast), ORANGE, '#ffffff', 'end', 14)}
      ]}}
  ],
  graphic: {elements: [
    {type: 'rect', z: -10, silent: true, shape: {x: 8, y: 0, width: 1380, height: 684}, style: {fill: PANEL}},
    vline(65.5, 0, 684, BORDER, 1),
    vline(1304.5, 0, 684, BORDER, 1),
    {type: 'line', z: 1, silent: true, shape: {x1: 8, y1: 650.5, x2: 1388, y2: 650.5}, style: {stroke: BORDER, lineWidth: 1}},
    {type: 'rect', z: 50, silent: true, shape: {x: 1305, y: 651, width: 83, height: 33}, style: {fill: PANEL}},
    {type: 'circle', z: 51, silent: true, shape: {cx: 37, cy: 667, r: 13}, style: {fill: '#232733'}},
    txt(37, 667, 'Z', 14, '#787b86', {align: 'center', textAlign: 'center'}, 52),
    {type: 'circle', z: 51, silent: true, shape: {cx: 1346, cy: 667, r: 13}, style: {fill: '#232733'}},
    txt(1346, 667, 'A', 14, '#787b86', {align: 'center', textAlign: 'center'}, 52),
    // pane separator
    {type: 'line', z: 40, silent: true, shape: {x1: 0, y1: 313.5, x2: 1390, y2: 313.5}, style: {stroke: '#e8e8e8', lineWidth: 2}},
    // legends
    txt(76, 18, 'US10Y-T10YIE, 1W, TVC', 15, AXIS_TXT),
    txt(76, 335, 'US10Y, TVC', 15, AXIS_TXT),
    txt(76, 356, 'T10YIE, FRED', 15, AXIS_TXT),
    // pct badge
    {type: 'rect', z: 60, silent: true, shape: {x: 1330, y: 323, width: 32, height: 22, r: 4}, style: {fill: PANEL, stroke: '#434651', lineWidth: 1}},
    txt(1346, 334, 'pct', 15, '#d1d4dc', {align: 'center', textAlign: 'center'}, 61),
    // annotations
    ell(170.3, 150, 63.7, 111.7),
    ell(1187.2, 256.2, 38.8, 34.5),
    ell(134.3, 473.3, 38.3, 107.3),
    ell(1187, 523.5, 38.7, 34.8),
    txt(90, 282, '2013 Taper Tantrum', 23, '#f2f2f2', {fontFamily: '"Liberation Sans", Arial, sans-serif'}),
    txt(948, 90, 'US 10-year real yields', 31, '#2962ff', {fontWeight: 600}),
    txt(621, 550, 'US 10-year yield -->', 31, '#f57c00', {fontWeight: 600}),
    txt(339, 584, '<-- US 10-year breakeven', 31, '#18b4cc', {fontWeight: 600}),
    // TradingView logo
    {type: 'polygon', z: 30, silent: true, shape: {points: [[8, 700], [19, 700], [19, 713], [14, 713], [14, 705], [8, 705]]}, style: {fill: '#e0e3eb'}},
    {type: 'circle', z: 30, silent: true, shape: {cx: 23, cy: 702.5, r: 2.5}, style: {fill: '#e0e3eb'}},
    {type: 'polygon', z: 30, silent: true, shape: {points: [[25, 713], [28.5, 700], [31, 700], [27.5, 713]]}, style: {fill: '#e0e3eb'}},
    txt(38, 707, 'TradingView', 16, '#e0e3eb', {fontWeight: 600})
  ]}
};
chart.setOption(option);
</script>
</body></html>
